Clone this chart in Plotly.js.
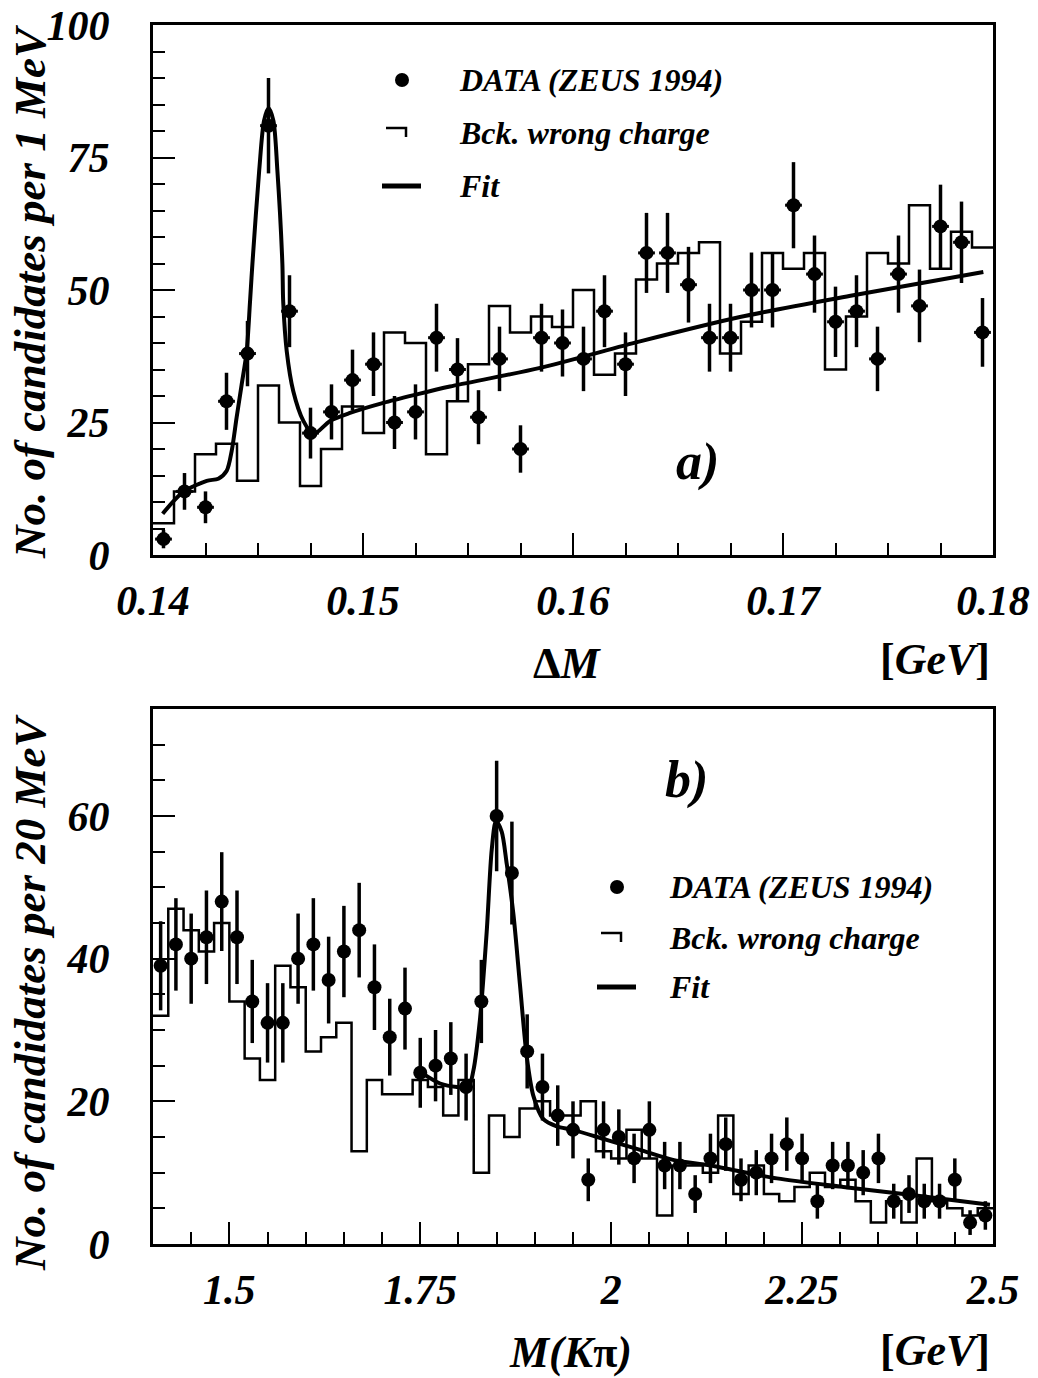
<!DOCTYPE html>
<html>
<head>
<meta charset="utf-8">
<script src="https://cdn.plot.ly/plotly-3.0.1.min.js"></script>
<style>html,body{margin:0;padding:0;background:#fff;}#chart{width:1038px;height:1378px;}</style>
</head>
<body>
<div id="chart"></div>
<script>
// ---------- Panel a: Delta M ----------
const aCenters = [0.1405,0.1415,0.1425,0.1435,0.1445,0.1455,0.1465,0.1475,0.1485,0.1495,
                  0.1505,0.1515,0.1525,0.1535,0.1545,0.1555,0.1565,0.1575,0.1585,0.1595,
                  0.1605,0.1615,0.1625,0.1635,0.1645,0.1655,0.1665,0.1675,0.1685,0.1695,
                  0.1705,0.1715,0.1725,0.1735,0.1745,0.1755,0.1765,0.1775,0.1785,0.1795];
const aCounts = [3,12,9,29,38,81,46,23,27,33,
                 36,25,27,41,35,26,37,20,41,40,
                 37,46,36,57,57,51,41,41,50,50,
                 66,53,44,46,37,53,47,62,59,42];
const aEdges = [0.140,0.141,0.142,0.143,0.144,0.145,0.146,0.147,0.148,0.149,
                0.150,0.151,0.152,0.153,0.154,0.155,0.156,0.157,0.158,0.159,
                0.160,0.161,0.162,0.163,0.164,0.165,0.166,0.167,0.168,0.169,
                0.170,0.171,0.172,0.173,0.174,0.175,0.176,0.177,0.178,0.179,0.180];
const aBkg = [6,12,19,21,14,32,25,13,20,28,
              23,42,40,19,29,36,47,42,45,43,
              50,34,38,52,55,57,59,38,44,57,
              54,57,35,45,57,55,66,54,61,58];
const aFitX = [0.14046,0.14144,0.14256,0.14311,0.14351,0.14375,0.14398,0.14422,0.14446,0.14462,
               0.14474,0.14506,0.14529,0.1455,0.14573,0.14592,0.14616,0.1462,0.14637,0.14668,
               0.14716,0.14763,0.14843,0.14938,0.15097,0.15256,0.15414,0.15843,0.16319,0.16795,
               0.17335,0.17954];
const aFitY = [7.8,11.9,14.0,14.4,15.9,19.7,25.9,32.1,38.4,47.8,
               55.3,72.7,82,84.3,82,72.7,55,47.8,38.4,30.9,
               25.3,22.8,25.3,26.8,28.7,30.3,31.8,35.3,40.3,44.9,
               49.0,53.4];
const aXTickVals = [0.14,0.15,0.16,0.17,0.18];
const aXTickText = ['0.14','0.15','0.16','0.17','0.18'];
const aYTickVals = [0,25,50,75,100];
const aYTickText = ['0','25','50','75','100'];

// ---------- Panel b: M(K pi) ----------
const bCenters = [1.41,1.43,1.45,1.47,1.49,1.51,1.53,1.55,1.57,1.59,
                  1.61,1.63,1.65,1.67,1.69,1.71,1.73,1.75,1.77,1.79,
                  1.81,1.83,1.85,1.87,1.89,1.91,1.93,1.95,1.97,1.99,
                  2.01,2.03,2.05,2.07,2.09,2.11,2.13,2.15,2.17,2.19,
                  2.21,2.23,2.25,2.27,2.29,2.31,2.33,2.35,2.37,2.39,
                  2.41,2.43,2.45,2.47,2.49];
const bCounts = [39,42,40,43,48,43,34,31,31,40,
                 42,37,41,44,36,29,33,24,25,26,
                 22,34,60,52,27,22,18,16,9,16,
                 15,12,16,11,11,7,12,14,9,10,
                 12,14,12,6,11,11,10,12,6,7,
                 6,6,9,3,4];
const bEdges = [1.40,1.42,1.44,1.46,1.48,1.50,1.52,1.54,1.56,1.58,
                1.60,1.62,1.64,1.66,1.68,1.70,1.72,1.74,1.76,1.78,
                1.80,1.82,1.84,1.86,1.88,1.90,1.92,1.94,1.96,1.98,
                2.00,2.02,2.04,2.06,2.08,2.10,2.12,2.14,2.16,2.18,
                2.20,2.22,2.24,2.26,2.28,2.30,2.32,2.34,2.36,2.38,
                2.40,2.42,2.44,2.46,2.48,2.50];
const bBkg = [32,47,44,41,45,34,26,23,39,36,
              27,29,31,13,23,21,21,23,22,18,
              23,10,18,15,19,20,18,18,20,13,
              12,16,12,4,11,11,10,18,7,11,
              7,6,8,10,8,9,6,3,6,3,
              12,6,5,4,5];
const bFitX = [1.752,1.776,1.798,1.813,1.8195,1.828,1.837,1.8436,1.8492,1.8566,
               1.8632,1.8719,1.8806,1.8894,1.898,1.9112,1.9287,1.95,1.994,2.038,
               2.081,2.13,2.217,2.304,2.391,2.496];
const bFitY = [24,22.5,22,22,24.3,31.3,43.8,55.3,59.3,57.8,
               53.3,46.3,36.3,26.3,20.8,17.5,16.5,16,14.6,13.2,
               11.8,11.0,9.2,8.0,6.9,5.5];
const bXTickVals = [1.5,1.75,2,2.25,2.5];
const bXTickText = ['1.5','1.75','2','2.25','2.5'];
const bYTickVals = [0,20,40,60];
const bYTickText = ['0','20','40','60'];

// ---------- helpers ----------
const W = 1038, H = 1378;
const px = v => v / W;
const py = v => 1 - v / H;
const FONT = 'Liberation Serif, Times New Roman, serif';
const sqrtErr = arr => arr.map(v => Math.sqrt(v));
const stepY = arr => arr.concat([arr[arr.length - 1]]);

const traces = [
  // panel a
  {x: aEdges, y: stepY(aBkg), type: 'scatter', mode: 'lines', line: {shape: 'hv', color: '#000', width: 2.5},
   xaxis: 'x', yaxis: 'y', showlegend: false, hoverinfo: 'skip'},
  {x: aFitX, y: aFitY, type: 'scatter', mode: 'lines', line: {shape: 'spline', smoothing: 0.8, color: '#000', width: 4},
   xaxis: 'x', yaxis: 'y', showlegend: false},
  {x: aCenters, y: aCounts, type: 'scatter', mode: 'markers', marker: {color: '#000', size: 14},
   error_y: {type: 'data', array: sqrtErr(aCounts), color: '#000', thickness: 3.5, width: 0},
   error_x: {type: 'constant', value: 0.0004, color: '#000', thickness: 3, width: 0},
   xaxis: 'x', yaxis: 'y', showlegend: false},
  // panel b
  {x: bEdges, y: stepY(bBkg), type: 'scatter', mode: 'lines', line: {shape: 'hv', color: '#000', width: 2.5},
   xaxis: 'x2', yaxis: 'y2', showlegend: false, hoverinfo: 'skip'},
  {x: bFitX, y: bFitY, type: 'scatter', mode: 'lines', line: {shape: 'spline', smoothing: 0.8, color: '#000', width: 4},
   xaxis: 'x2', yaxis: 'y2', showlegend: false},
  {x: bCenters, y: bCounts, type: 'scatter', mode: 'markers', marker: {color: '#000', size: 14},
   error_y: {type: 'data', array: sqrtErr(bCounts), color: '#000', thickness: 3.5, width: 0},
   xaxis: 'x2', yaxis: 'y2', showlegend: false}
];

const tickFont = {family: FONT, size: 42, color: '#000', weight: 'bold', style: 'italic'};
function axis(extra) {
  return Object.assign({
    showgrid: false, zeroline: false, showline: true, linecolor: '#000', linewidth: 3, mirror: true,
    ticks: 'inside', ticklen: 22, tickwidth: 2, tickcolor: '#000', tickmode: 'array',
    tickfont: tickFont, fixedrange: true, ticklabeloverflow: 'allow'
  }, extra);
}

const aTop = 25, aBot = 555, bTop = 709, bBot = 1244, L = 153, R = 993;

const layout = {
  width: W, height: H,
  margin: {l: 0, r: 0, t: 0, b: 0, pad: 0},
  paper_bgcolor: '#fff', plot_bgcolor: '#fff',
  showlegend: false,
  xaxis: axis({domain: [px(L), px(R)], range: [0.14, 0.18], anchor: 'y',
    tickvals: aXTickVals, ticktext: aXTickText, ticklabelstandoff: 7,
    minor: {tickmode: 'linear', tick0: 0.14, dtick: 0.0025, ticks: 'inside', ticklen: 12, tickwidth: 2, tickcolor: '#000', showgrid: false}}),
  yaxis: axis({domain: [py(aBot), py(aTop)], range: [0, 100], anchor: 'x',
    tickvals: aYTickVals, ticktext: aYTickText, ticklabelstandoff: 32,
    minor: {tickmode: 'linear', tick0: 0, dtick: 5, ticks: 'inside', ticklen: 12, tickwidth: 2, tickcolor: '#000', showgrid: false}}),
  xaxis2: axis({domain: [px(L), px(R)], range: [1.4, 2.5], anchor: 'y2',
    tickvals: bXTickVals, ticktext: bXTickText, ticklabelstandoff: 7,
    minor: {tickmode: 'linear', tick0: 1.4, dtick: 0.05, ticks: 'inside', ticklen: 12, tickwidth: 2, tickcolor: '#000', showgrid: false}}),
  yaxis2: axis({domain: [py(bBot), py(bTop)], range: [0, 75], anchor: 'x2',
    tickvals: bYTickVals, ticktext: bYTickText, ticklabelstandoff: 32,
    minor: {tickmode: 'linear', tick0: 0, dtick: 5, ticks: 'inside', ticklen: 12, tickwidth: 2, tickcolor: '#000', showgrid: false}}),
  annotations: [],
  shapes: []
};

function note(text, x, y, size, xanchor, angle) {
  layout.annotations.push({
    text: text, xref: 'paper', yref: 'paper', x: px(x), y: py(y),
    xanchor: xanchor || 'center', yanchor: 'middle', showarrow: false,
    textangle: angle || 0, font: {family: FONT, size: size, color: '#000'}
  });
}

// axis titles
note('<b><i>No. of candidates per 1 MeV</i></b>', 30, 292, 45, 'center', -90);
note('<b><i>No. of candidates per 20 MeV</i></b>', 30, 993, 45, 'center', -90);
note('<b>Δ<i>M</i></b>', 567, 663, 44);
note('<b>[<i>GeV</i>]</b>', 935, 660, 44);
note('<b><i>M(K</i>π<i>)</i></b>', 570, 1352, 44);
note('<b>[<i>GeV</i>]</b>', 935, 1350, 44);
// panel labels
note('<b><i>a)</i></b>', 697, 462, 52);
note('<b><i>b)</i></b>', 686, 780, 52);

// legends
function legend(lx, tx, yD, yB, yF) {
  note('<b><i>DATA (ZEUS 1994)</i></b>', tx, yD, 32, 'left');
  note('<b><i>Bck. wrong charge</i></b>', tx, yB, 32, 'left');
  note('<b><i>Fit</i></b>', tx, yF, 32, 'left');
  layout.shapes.push({type: 'circle', xref: 'paper', yref: 'paper',
    x0: px(lx - 7), x1: px(lx + 7), y0: py(yD + 7), y1: py(yD - 7),
    fillcolor: '#000', line: {color: '#000', width: 0}});
  layout.shapes.push({type: 'path', xref: 'paper', yref: 'paper',
    path: 'M ' + px(lx - 16) + ' ' + py(yB - 5) + ' L ' + px(lx + 4) + ' ' + py(yB - 5) + ' L ' + px(lx + 4) + ' ' + py(yB + 4),
    line: {color: '#000', width: 2.5}});
  layout.shapes.push({type: 'line', xref: 'paper', yref: 'paper',
    x0: px(lx - 20), x1: px(lx + 19), y0: py(yF), y1: py(yF),
    line: {color: '#000', width: 5}});
}
legend(402, 457, 80, 133, 186);
legend(617, 667, 887, 938, 987);

Plotly.newPlot('chart', traces, layout, {displayModeBar: false, staticPlot: true});
</script>
</body>
</html>
